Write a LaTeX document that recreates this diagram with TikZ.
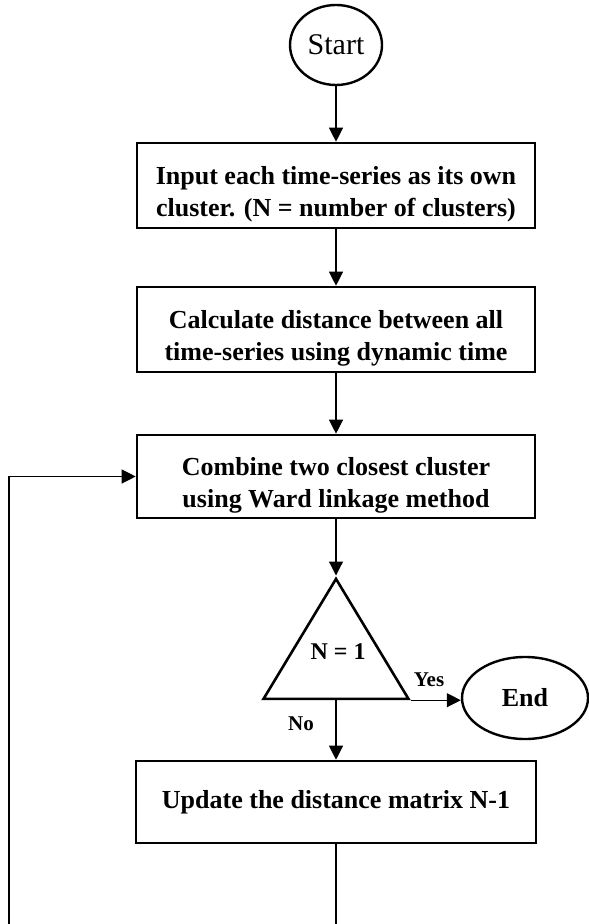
\documentclass[tikz,border=0pt]{standalone}
\usepackage{fontspec}
\setmainfont{Liberation Serif}
\usetikzlibrary{shapes.geometric}
\usetikzlibrary{arrows.meta}

\newcommand{\boxstrut}{\rule{0pt}{17.5pt}}

\begin{document}
\begin{tikzpicture}[x=0.5pt, y=-0.5pt]

\def\xmid{336}
\def\boxw{199pt}
\def\xloop{9}
\def\ybot{924}

\tikzset{stepbox/.style = {draw, line width=1.3pt, minimum width=\boxw, minimum height=42.5pt,
                           inner sep=0pt, align=center, font=\fontsize{13}{16}\selectfont\bfseries}}
\tikzset{oval/.style = {draw, ellipse, line width=1.2pt, inner sep=0pt}}
\tikzset{decision/.style = {draw, isosceles triangle, shape border rotate=90, isosceles triangle stretches,
                            line width=1.3pt, inner sep=0pt, minimum width=72.5pt, minimum height=60pt}}
\tikzset{flow/.style = {line width=0.6pt, -{Triangle[length=7pt, width=7pt]}}}
\tikzset{plain/.style = {line width=0.6pt}}
\tikzset{answer/.style = {font=\fontsize{10.5}{12}\selectfont\bfseries, inner sep=0pt}}

\useasboundingbox (0,0) rectangle (588,924);

%terminals
\node[oval, minimum width=46pt, minimum height=40pt, font=\fontsize{15}{18}\selectfont] (start) at (\xmid, 45) {Start};
\node[oval, minimum width=63pt, minimum height=41pt, font=\fontsize{13}{16}\selectfont\bfseries] (end) at (525, 698) {End};

%process boxes
\node[stepbox] (input) at (\xmid, 185.5) {\boxstrut Input each time-series as its own\\cluster. (N = number of clusters)};
\node[stepbox] (calc) at (\xmid, 329.5) {\boxstrut Calculate distance between all\\time-series using dynamic time};
\node[stepbox, minimum height=41.5pt] (combine) at (\xmid, 476.5) {\boxstrut Combine two closest cluster\\using Ward linkage method};
\node[stepbox, minimum width=200pt, minimum height=41pt] (update) at (\xmid, 802) {Update the distance matrix N-1};

%decision
\node[decision] (check) at (\xmid, 658) {};
\node[font=\fontsize{12}{14}\selectfont\bfseries, inner sep=0pt] (cond) at (338, 652) {N = 1};
\node[answer] (yes) at (429, 680) {Yes};
\node[answer] (no) at (301, 724) {No};

%flow
\draw[flow] (start) -- (input);
\draw[flow] (input) -- (calc);
\draw[flow] (calc) -- (combine);
\draw[flow] (combine) -- (check.apex);
\draw[flow] (check.right corner) -- (check.right corner -| end.west);
\draw[flow] (check.south) -- (check.south |- update.north);

%loop back
\coordinate (outR) at (\xmid, \ybot);
\coordinate (outL) at (\xloop, \ybot);
\draw[plain] (update) -- (outR);
\draw[flow] (outL) |- (combine);

\end{tikzpicture}
\end{document}
